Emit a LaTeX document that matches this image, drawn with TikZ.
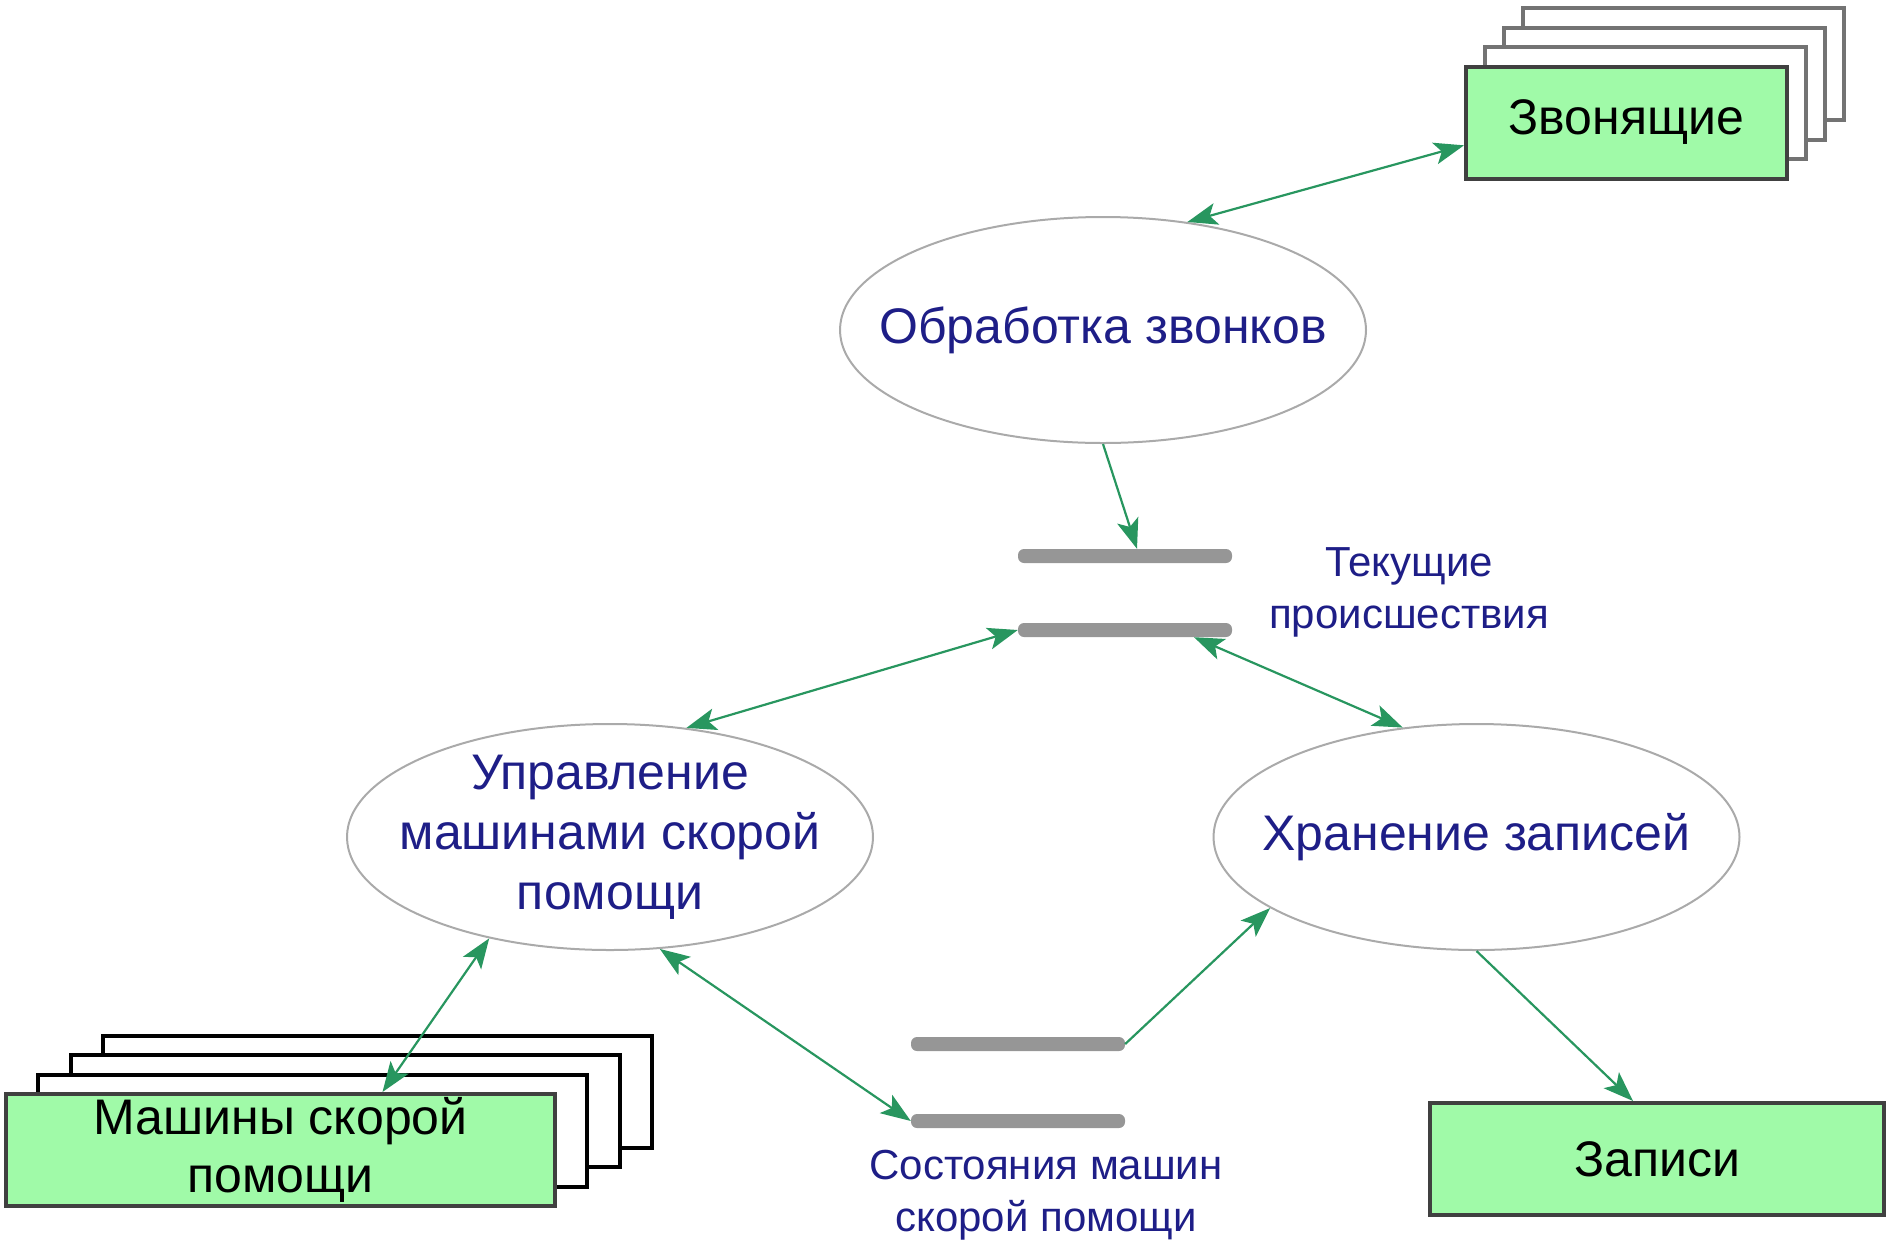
\documentclass[tikz,border=0pt]{standalone}
\usepackage{fontspec}
\setmainfont{Liberation Sans}
\usepackage{tikz}
\usetikzlibrary{arrows.meta,shapes}

\definecolor{boxgreen}{RGB}{160,250,168}
\definecolor{flowgreen}{RGB}{40,150,95}
\definecolor{textblue}{RGB}{30,30,135}
\definecolor{storegray}{RGB}{150,150,150}
\definecolor{rimgray}{RGB}{170,170,170}

\begin{document}
\begin{tikzpicture}[x=1pt,y=-1pt,
  proc/.style={draw=rimgray,line width=2pt,ellipse,inner sep=0pt,minimum width=526pt,minimum height=226pt},
  proctext/.style={text=textblue,align=center,font=\fontsize{50}{60}\selectfont},
  ext/.style={draw=black!75,line width=4pt,fill=boxgreen,inner sep=0pt,minimum height=112pt,align=center,font=\fontsize{50}{58}\selectfont},
  backbox/.style={draw=#1,line width=4pt,fill=white,inner sep=0pt,minimum height=112pt},
  store/.style={fill=storegray,rounded corners=6pt,inner sep=0pt,minimum width=214pt,minimum height=14pt},
  storetext/.style={text=textblue,align=center,font=\fontsize{42}{52}\selectfont},
  flow/.style={line width=2.2pt,draw=flowgreen,>={Stealth[length=30pt,width=22pt,inset=7pt]}}]

\useasboundingbox (0,0) rectangle (1900,1256);

% external entities
\foreach \i in {3,2,1}
  \node (zvon\i) at (1626.5+19*\i,122.5-19.5*\i)[backbox=black!55,minimum width=321pt] {};
\node (zvon) at (1626.5,122.5)[ext,minimum width=321pt] {Звонящие};

\foreach \i in {3,2,1}
  \node (mash\i) at (280.5+32.3*\i,1150-19.4*\i)[backbox=black,minimum width=549pt] {};
\node (mash) at (280.5,1150)[ext,minimum width=549pt] {Машины скорой\\помощи};

\node (zap) at (1657,1159)[ext,minimum width=454pt] {Записи};

% processes
\node (obr) at (1103,330)[proc] {};
\node (obrtxt) at (obr)[proctext] {Обработка звонков};
\node (upr) at (610,837)[proc] {};
\node (uprtxt) at (upr)[proctext] {Управление\\машинами скорой\\помощи};
\node (hran) at (1476.5,837)[proc] {};
\node (hrantxt) at (hran)[proctext] {Хранение записей};

% data stores
\node (cur1) at (1125,556)[store] {};
\node (cur2) at (1125,630)[store] {};
\node (curtxt) at (1409,592)[storetext] {Текущие\\происшествия};
\node (st1) at (1018,1044)[store] {};
\node (st2) at (1018,1121)[store] {};
\node (sttxt) at (1046,1195)[storetext] {Состояния машин\\скорой помощи};

% flows
\draw [flow,<->] (zvon.188) -- (obr.52);
\draw [flow,->] (obr.south) -- ([xshift=12pt]cur1.north);
\draw [flow,<->] (upr.55) -- (cur2.west);
\draw [flow,<->] ([xshift=69pt]cur2.south) -- (hran.124);
\draw [flow,<->] (upr.220) -- ([xshift=102pt]mash.north);
\draw [flow,<->] (upr.-66) -- (st2.west);
\draw [flow,->] (st1.east) -- (hran.199);
\draw [flow,->] (hran.south) -- ([xshift=-24pt]zap.north);
\end{tikzpicture}
\end{document}
